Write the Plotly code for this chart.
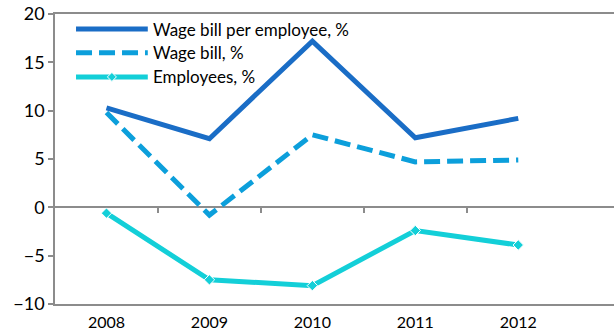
import plotly.graph_objects as go

# Annual change, %
years = ["2008", "2009", "2010", "2011", "2012"]
wage_per_employee = [10.3, 7.1, 17.2, 7.2, 9.2]
wage_bill = [9.8, -0.8, 7.5, 4.7, 4.9]
employees = [-0.6, -7.5, -8.1, -2.4, -3.9]

series_names = ["Wage bill per employee, %", "Wage bill, %", "Employees, %"]
colors = ["#1A6DC6", "#0C9FDB", "#13CFD8"]

FONT = "Lato"
AXIS_GREY = "#8C8C8C"
DASH = "16px,7px"

xpos = list(range(len(years)))

fig = go.Figure()
fig.add_trace(go.Scatter(x=xpos, y=wage_per_employee, mode="lines",
                         line=dict(color=colors[0], width=5),
                         name=series_names[0], showlegend=False))
fig.add_trace(go.Scatter(x=xpos, y=wage_bill, mode="lines",
                         line=dict(color=colors[1], width=5, dash=DASH),
                         name=series_names[1], showlegend=False))
fig.add_trace(go.Scatter(x=xpos, y=employees, mode="lines+markers",
                         line=dict(color=colors[2], width=5),
                         marker=dict(symbol="diamond", size=8, color=colors[2],
                                     line=dict(color="white", width=1)),
                         name=series_names[2], showlegend=False))

# Custom legend in the upper left of the plot area
shapes = []
annotations = []
leg_x0, leg_x1 = 0.0376, 0.166
leg_rows = [0.948, 0.866, 0.783]
for i, (name, col, yv) in enumerate(zip(series_names, colors, leg_rows)):
    shapes.append(dict(type="line", xref="paper", yref="paper",
                       x0=leg_x0, x1=leg_x1, y0=yv, y1=yv,
                       line=dict(color=col, width=5,
                                 dash=DASH if i == 1 else "solid")))
    annotations.append(dict(xref="paper", yref="paper", x=leg_x1 + 0.006, y=yv,
                            xanchor="left", yanchor="middle", text=name,
                            showarrow=False,
                            font=dict(family=FONT, size=17, color="black")))
# diamond marker in the Employees legend entry
shapes.append(dict(type="path", xref="paper", yref="paper",
                   xsizemode="pixel", ysizemode="pixel",
                   xanchor=(leg_x0 + leg_x1) / 2, yanchor=leg_rows[2],
                   path="M0,4.5 L4.5,0 L0,-4.5 L-4.5,0 Z",
                   fillcolor=colors[2], line=dict(color="white", width=1)))

fig.update_layout(
    width=614, height=334,
    margin=dict(l=55, r=0, t=14, b=30),
    paper_bgcolor="white", plot_bgcolor="white",
    font=dict(family=FONT, size=17, color="black"),
    shapes=shapes, annotations=annotations,
    showlegend=False,
    xaxis=dict(range=[-0.5, 4.93], tickvals=xpos, ticktext=years,
               ticks="outside", ticklen=3, tickcolor="rgba(0,0,0,0)",
               showgrid=False, zeroline=False, automargin=False,
               showline=True, mirror=True, linecolor=AXIS_GREY, linewidth=1.5,
               tickfont=dict(family=FONT, size=16)),
    xaxis2=dict(range=[-0.5, 4.93], overlaying="x", anchor="free", position=1 / 3,
                side="bottom", automargin=False,
                tickvals=[0.5, 1.5, 2.5, 3.5], ticks="outside", ticklen=5,
                tickcolor=AXIS_GREY, tickwidth=1.5, showticklabels=False,
                showgrid=False, zeroline=False, showline=False),
    yaxis=dict(range=[-10, 20], tickvals=[-10, -5, 0, 5, 10, 15, 20],
               ticks="outside", ticklen=5, tickcolor=AXIS_GREY, tickwidth=1.5,
               showgrid=False, zeroline=True, zerolinecolor=AXIS_GREY,
               zerolinewidth=1.5, showline=True, linecolor=AXIS_GREY,
               linewidth=1.5, automargin=False,
               tickfont=dict(family=FONT, size=18)),
)
# empty trace so the overlaid tick axis is drawn
fig.add_trace(go.Scatter(x=[None], y=[None], xaxis="x2", showlegend=False,
                         hoverinfo="skip"))

fig.write_html("out.html")
